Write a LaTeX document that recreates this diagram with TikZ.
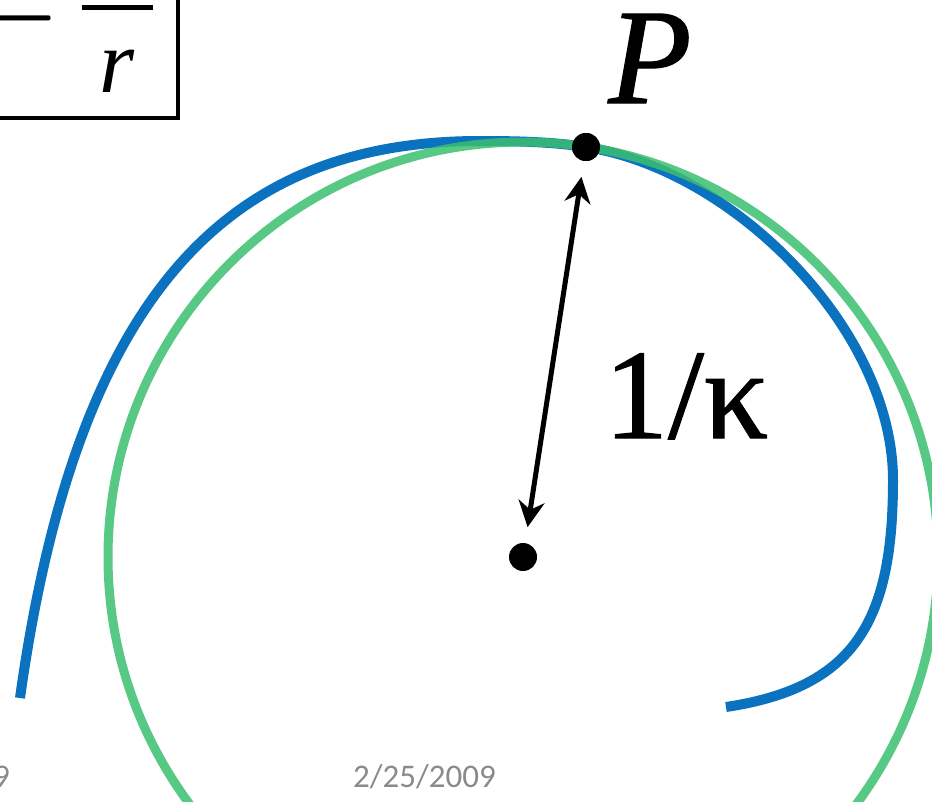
\RequirePackage{fix-cm}
\documentclass[tikz,border=0pt]{standalone}
\usepackage{amsmath}
\usepackage[no-math]{fontspec}
\setmainfont{Liberation Serif}
\newfontfamily\footfont{Carlito}
\usetikzlibrary{arrows.meta}
\definecolor{CurveBlue}{HTML}{0A72BE}
\definecolor{CircGreen}{HTML}{3BBF70}
\definecolor{FootGray}{HTML}{8A8A8A}

\begin{document}
\begin{tikzpicture}[
    x=1pt, y=-1pt,
    curveline/.style={
      CurveBlue,
      line width=10pt
    },
    osccircle/.style={
      CircGreen,
      line width=9pt,
      opacity=0.85
    },
    ptdot/.style={
      circle,
      fill=black,
      inner sep=0pt,
      minimum size=28pt
    },
    radarrow/.style={
      {Stealth[length=26pt,width=26pt]}-{Stealth[length=26pt,width=26pt]},
      line width=5pt,
      shorten <=16pt,
      shorten >=16pt
    },
    eqbox/.style={
      draw,
      line width=4pt,
      outer sep=0pt,
      inner xsep=24pt,
      inner ysep=26pt,
      font=\fontsize{90}{90}\selectfont
    },
    bigtext/.style={
      inner sep=0pt,
      font=\fontsize{#1}{#1}\selectfont\addfontfeature{FakeBold=1}
    },
    slidefoot/.style={
      inner sep=0pt,
      text=FootGray,
      font=\footfont\fontsize{33}{33}\selectfont
    }
  ]

  \useasboundingbox (0,0) rectangle (932,801);
  \clip (0,0) rectangle (932,801);

  % formula box, cut by the slide edge
  \node[eqbox, anchor=south east] (eqn) at (178,118)
    {$\kappa\mathrel{\raisebox{-0.128em}{\scalebox{1}[1.6]{$=$}}}\genfrac{}{}{5pt}{0}{\,1\,}{\textit{r}}$};

  % point on curve and centre of curvature
  \node[ptdot] (ctr) at (523,557) {};
  \node[ptdot] (P) at (586,147) {};

  % the curve (tangent to the circle at P)
  \coordinate (crvA) at (20,698);
  \coordinate (crvB) at (480,141);
  \coordinate (crvC) at (893,480);
  \coordinate (crvD) at (726,707);
  \draw[curveline] (crvA) .. controls (77,290) and (230,141) .. (crvB)
    .. controls (515,141) and (551.4,141.7) .. (P.center)
    .. controls (734,170) and (893,330) .. (crvC)
    .. controls (893,620) and (856,687.5) .. (crvD);

  % osculating circle
  \draw[osccircle] (ctr) circle[radius=415];

  \node[ptdot] at (P) {};
  \draw[radarrow] (ctr) -- (P);

  \node[bigtext=136, anchor=base] (plabel) at (650,103) {\itshape P};
  \node[bigtext=128, anchor=base west] (klabel) at (604,438) {1/κ};

  % footer
  \node[slidefoot, anchor=base east] (pgnum) at (10,787) {9};
  \node[slidefoot, anchor=base west] (date) at (353,787) {2/25/2009};

\end{tikzpicture}
\end{document}
